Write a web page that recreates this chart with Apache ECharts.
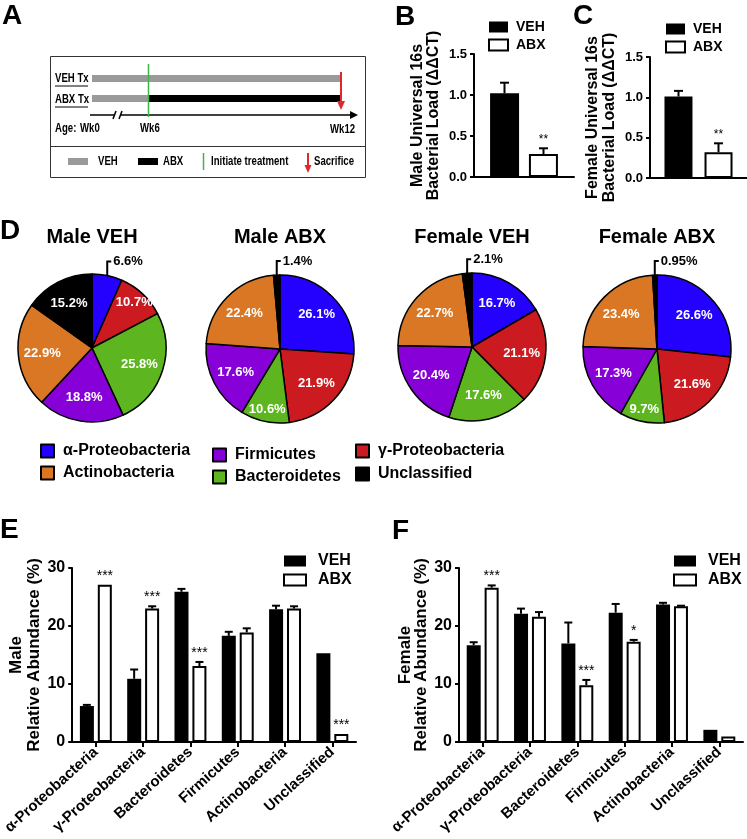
<!DOCTYPE html>
<html><head><meta charset="utf-8">
<script src="https://cdn.jsdelivr.net/npm/echarts@6/dist/echarts.min.js"></script>
<style>html,body{margin:0;padding:0;background:#fff}#c{width:747px;height:839px}</style>
</head><body><div id="c"></div>
<script>
// ---------------- data ----------------
const taxa = ['α-Proteobacteria','γ-Proteobacteria','Bacteroidetes','Firmicutes','Actinobacteria','Unclassified'];
const pieTitles = ['Male VEH','Male ABX','Female VEH','Female ABX'];
const pieMaleVEH   = [6.6, 10.7, 25.8, 18.8, 22.9, 15.2];
const pieMaleABX   = [26.1, 21.9, 10.6, 17.6, 22.4, 1.4];
const pieFemaleVEH = [16.7, 21.1, 17.6, 20.4, 22.7, 2.1];
const pieFemaleABX = [26.6, 21.6, 9.7, 17.3, 23.4, 0.95];

const groups = ['VEH','ABX'];
const maleLoadMean = [1.02, 0.28];
const maleLoadErr  = [0.13, 0.07];
const maleLoadStars = ['', '**'];
const femaleLoadMean = [1.01, 0.32];
const femaleLoadErr  = [0.07, 0.11];
const femaleLoadStars = ['', '**'];

const maleVEH    = [6.2, 10.9, 25.9, 18.3, 22.9, 15.3];
const maleVEHErr = [0.2, 1.6, 0.5, 0.7, 0.6, 0];
const maleABX    = [27.1, 23.0, 13.1, 18.9, 23.0, 1.4];
const maleABXErr = [0, 0.4, 0.7, 0.7, 0.4, 0];
const maleStars  = ['***','***','***','','','***'];

const femaleVEH    = [16.7, 22.1, 17.0, 22.3, 23.7, 2.1];
const femaleVEHErr = [0.5, 0.9, 3.6, 1.5, 0.3, 0];
const femaleABX    = [26.6, 21.6, 9.8, 17.3, 23.4, 0.95];
const femaleABXErr = [0.4, 0.8, 0.9, 0.3, 0.1, 0];
const femaleStars  = ['***','','***','*','',''];

const legendCols = [['α-Proteobacteria','Actinobacteria'],['Firmicutes','Bacteroidetes'],['γ-Proteobacteria','Unclassified']];

// ---------------- styles / layout ----------------
const F = '"Liberation Sans", Arial, sans-serif';
const taxaColors = ['#2400ff', '#cc1b20', '#5db520', '#8700d8', '#d97725', '#000000'];
const pieCenters = [[92,348],[280,349],[472,347],[657,349]];
const pieR = 74;
const outsideIdx = [0, 5, 5, 5];
const pieSets = [pieMaleVEH, pieMaleABX, pieFemaleVEH, pieFemaleABX];

const chart = echarts.init(document.getElementById('c'), null, {renderer:'canvas'});

function txt(x, y, s, font, opts) {
  return {type:'text', style:Object.assign({x:x, y:y, text:s, font:font, fill:'#000', align:'left', verticalAlign:'middle'}, opts||{})};
}
// condensed text (narrow look) via horizontal scaling
function ntxt(x, y, s) {
  return {type:'text', x:x, y:y, scaleX:0.8, scaleY:1,
    style:{x:0, y:0, text:s, font:'bold 12px ' + F, fill:'#000', align:'left', verticalAlign:'middle'}};
}
function ln(x1,y1,x2,y2,color,w){ return {type:'line', shape:{x1,y1,x2,y2}, style:{stroke:color||'#000', lineWidth:w||1}}; }
function rc(x,y,w,h,fill){ return {type:'rect', shape:{x,y,width:w,height:h}, style:{fill:fill}}; }
function poly(pts, fill){ return {type:'polygon', shape:{points:pts}, style:{fill:fill}}; }

const GREEN = '#3db54a', RED = '#e3262b', GRAY = '#9a9a9a';
const graphics = [
  // panel letters
  txt(2, 16, 'A', 'bold 28px ' + F),
  txt(395, 17, 'B', 'bold 28px ' + F),
  txt(573, 16, 'C', 'bold 28px ' + F),
  txt(0, 231, 'D', 'bold 28px ' + F),
  txt(0, 530, 'E', 'bold 28px ' + F),
  txt(392, 531, 'F', 'bold 28px ' + F),
  // panel A schematic
  {type:'rect', shape:{x:50.5,y:56.5,width:315,height:121}, style:{fill:'none', stroke:'#333', lineWidth:1}},
  ln(50, 146.5, 365, 146.5, '#333', 1),
  ntxt(55, 79, 'VEH Tx'), ln(55, 86, 88, 86, '#000', 1),
  ntxt(55, 100, 'ABX Tx'), ln(55, 107, 88, 107, '#000', 1),
  rc(92, 75, 249, 7, GRAY),
  rc(92, 95, 56, 7, GRAY),
  rc(148, 95, 193, 7, '#000'),
  ln(90, 115, 114, 115, '#000', 1.5),
  ln(113, 119, 116, 111, '#000', 1.5),
  ln(119, 119, 122, 111, '#000', 1.5),
  ln(121, 115, 352, 115, '#000', 1.5),
  poly([[358,115],[350,111],[350,119]], '#000'),
  ln(148.5, 64, 148.5, 117, GREEN, 1.5),
  ln(341, 72, 341, 103, RED, 2),
  poly([[341,110],[337,101],[345,101]], RED),
  ntxt(55, 129, 'Age:'),
  ntxt(80, 129, 'Wk0'),
  ntxt(140, 129, 'Wk6'),
  ntxt(330, 130, 'Wk12'),
  rc(68, 158, 20, 7, GRAY), ntxt(98, 162, 'VEH'),
  rc(138, 158, 20, 7, '#000'), ntxt(163, 162, 'ABX'),
  ln(203.5, 153, 203.5, 170, GREEN, 1.5), ntxt(211, 162, 'Initiate treatment'),
  ln(308, 153, 308, 166, RED, 2), poly([[308,173],[304.5,165],[311.5,165]], RED), ntxt(314, 162, 'Sacrifice')
];
pieTitles.forEach((t, k) => graphics.push(txt(pieCenters[k][0], 237, t, 'bold 20px ' + F, {align:'center'})));

// ---------------- axes helpers ----------------
const axLine = {show:true, lineStyle:{color:'#000', width:2}};
function yAx(gi, max, interval, name, labelSize, nameSize, nameGap, fmt, lh) {
  return {gridIndex:gi, type:'value', min:0, max:max, interval:interval,
    axisLine:axLine, axisTick:{show:true, length:4, lineStyle:{color:'#000', width:2}},
    splitLine:{show:false},
    axisLabel:{fontSize:labelSize, fontWeight:'bold', color:'#000', fontFamily:F, margin:7, formatter:fmt},
    name:name, nameLocation:'middle', nameGap:nameGap, nameRotate:90,
    nameTextStyle:{fontSize:nameSize, fontWeight:'bold', color:'#000', fontFamily:F, lineHeight:lh}};
}
function xCat(gi, data, showLabels) {
  return {gridIndex:gi, type:'category', data:data, axisLine:axLine,
    axisTick:{show:showLabels, alignWithLabel:true, length:5, lineStyle:{color:'#000', width:2}},
    axisLabel:{show:showLabels, interval:0, rotate:42, fontSize:15, fontWeight:'bold', color:'#000', fontFamily:F, margin:8}};
}
function bar(gi, name, data, width, gap) {
  const isABX = name === 'ABX';
  return {type:'bar', name:name, xAxisIndex:gi, yAxisIndex:gi, data:data, barWidth:width, barGap:gap,
    itemStyle: isABX ? {color:'#fff', borderColor:'#000', borderWidth:2} : {color:'#000'},
    silent:true, animation:false};
}
function errBars(gi, cats, means, errs, stars, dx, capW, starSize) {
  return {type:'custom', xAxisIndex:gi, yAxisIndex:gi, z:10, silent:true, animation:false, clip:false,
    data: means.map((m, i) => [cats[i], m, errs[i]]),
    renderItem: function(params, api) {
      const i = params.dataIndex;
      const c = api.value(0), m = api.value(1), e = api.value(2);
      const p0 = api.coord([c, m]), p1 = api.coord([c, m + e]);
      const x = p0[0] + dx;
      const ch = [];
      if (e > 0) {
        ch.push({type:'line', shape:{x1:x, y1:p0[1], x2:x, y2:p1[1]}, style:{stroke:'#000', lineWidth:2}});
        ch.push({type:'line', shape:{x1:x-capW/2, y1:p1[1], x2:x+capW/2, y2:p1[1]}, style:{stroke:'#000', lineWidth:2}});
      }
      if (stars[i]) ch.push({type:'text', style:{x:x, y:p1[1]-9, text:stars[i], font:starSize+'px ' + F, fill:'#000', align:'center', verticalAlign:'middle'}});
      return {type:'group', children:ch};
    }};
}

// ---------------- pies ----------------
const pies = pieSets.map((vals, k) => ({
  type:'pie', center:pieCenters[k], radius:pieR, startAngle:90, clockwise:true,
  avoidLabelOverlap:false, silent:true, animation:false, minShowLabelAngle:0,
  itemStyle:{borderColor:'#000', borderWidth:1.5},
  label:{show:true, position:'inside', formatter:p => p.value + '%', color:'#fff', fontSize:13, fontWeight:'bold', fontFamily:F},
  labelLine:{show:false},
  emphasis:{disabled:true},
  data: vals.map((v, i) => {
    const d = {name:taxa[i], value:v, itemStyle:{color:taxaColors[i]}};
    if (i === outsideIdx[k]) {
      d.label = {position:'outside', color:'#000'};
      d.labelLine = {show:true, length:8, length2:4, lineStyle:{color:'#000', width:2}};
    }
    return d;
  }),
  labelLayout: function(p) {
    const cx = pieCenters[k][0], cy = pieCenters[k][1];
    if (p.dataIndex === outsideIdx[k] && p.labelLinePoints) {
      const s = p.labelLinePoints[0];
      const yTop = s[1] - 14;
      return {x:s[0] + 6, y:yTop, align:'left', verticalAlign:'middle',
              labelLinePoints:[[s[0], s[1]], [s[0], yTop], [s[0] + 4, yTop]]};
    }
    const lr = p.labelRect;
    const lx = lr.x + lr.width/2, ly = lr.y + lr.height/2;
    const f = vals[p.dataIndex] < 12 ? 1.55 : 1.25;
    return {x:cx + (lx - cx)*f, y:cy + (ly - cy)*f, align:'center', verticalAlign:'middle'};
  }
}));

// ---------------- legends ----------------
function legItem(name) {
  return {name:name, itemStyle:{color:taxaColors[taxa.indexOf(name)], borderColor:'#000', borderWidth:2}};
}
const vehLeg = {name:'VEH', itemStyle:{color:'#000', borderColor:'#000', borderWidth:0}};
const abxLeg = {name:'ABX', itemStyle:{color:'#fff', borderColor:'#000', borderWidth:2}};
function barLegend(left, top, iw, ih, fs, gap, pad) {
  return {left:left, top:top, orient:'vertical', padding:0, itemGap:gap, itemWidth:iw, itemHeight:ih, icon:'rect',
    selectedMode:false, data:[vehLeg, abxLeg],
    textStyle:{fontSize:fs, fontWeight:'bold', color:'#000', fontFamily:F, padding:[0,0,0,pad]}};
}
function taxaLegend(left, top, names, gap) {
  return {left:left, top:top, orient:'vertical', padding:0, itemGap:gap, itemWidth:13, itemHeight:13, icon:'rect', selectedMode:false,
    data:names.map(legItem), textStyle:{fontSize:16, fontWeight:'bold', color:'#000', fontFamily:F, padding:[0,0,0,4]}};
}
const legends = [
  taxaLegend(40, 443, legendCols[0], 6),
  taxaLegend(212, 447, legendCols[1], 6),
  taxaLegend(355, 443, legendCols[2], 7),
  barLegend(488, 20, 19, 11, 14, 4, 3),
  barLegend(665, 22, 19, 11, 14, 4, 3),
  barLegend(283, 553, 22, 11, 16, 3, 7),
  barLegend(673, 553, 22, 11, 16, 3, 7)
];

// ---------------- option ----------------
const fmt1 = v => v.toFixed(1);
const series = [
  bar(0, 'VEH', [maleLoadMean[0]], 29, '34%'),
  bar(0, 'ABX', [maleLoadMean[1]], 29, '34%'),
  errBars(0, [0], [maleLoadMean[0]], [maleLoadErr[0]], [maleLoadStars[0]], -19.5, 9, 12),
  errBars(0, [0], [maleLoadMean[1]], [maleLoadErr[1]], [maleLoadStars[1]], 19.5, 9, 12),
  bar(1, 'VEH', [femaleLoadMean[0]], 28, '43%'),
  bar(1, 'ABX', [femaleLoadMean[1]], 28, '43%'),
  errBars(1, [0], [femaleLoadMean[0]], [femaleLoadErr[0]], [femaleLoadStars[0]], -20, 9, 12),
  errBars(1, [0], [femaleLoadMean[1]], [femaleLoadErr[1]], [femaleLoadStars[1]], 20, 9, 12),
  bar(2, 'VEH', maleVEH, 14, '28%'),
  bar(2, 'ABX', maleABX, 14, '28%'),
  errBars(2, [0,1,2,3,4,5], maleVEH, maleVEHErr, ['','','','','',''], -9, 8, 14),
  errBars(2, [0,1,2,3,4,5], maleABX, maleABXErr, maleStars, 9, 8, 14),
  bar(3, 'VEH', femaleVEH, 14, '28%'),
  bar(3, 'ABX', femaleABX, 14, '28%'),
  errBars(3, [0,1,2,3,4,5], femaleVEH, femaleVEHErr, ['','','','','',''], -9, 8, 14),
  errBars(3, [0,1,2,3,4,5], femaleABX, femaleABXErr, femaleStars, 9, 8, 14)
].concat(pies);

chart.setOption({
  animation:false,
  textStyle:{fontFamily:F},
  graphic:graphics,
  legend:legends,
  grid:[
    {left:474, top:54, width:100, height:123},
    {left:650, top:57, width:98, height:121},
    {left:72, top:568, width:284, height:174},
    {left:459, top:568, width:284, height:174}
  ],
  xAxis:[
    xCat(0, ['16s'], false),
    xCat(1, ['16s'], false),
    xCat(2, taxa, true),
    xCat(3, taxa, true)
  ],
  yAxis:[
    yAx(0, 1.5, 0.5, 'Male Universal 16s\nBacterial Load (ΔΔCT)', 13, 16, 32, fmt1, 16),
    yAx(1, 1.5, 0.5, 'Female Universal 16s\nBacterial Load (ΔΔCT)', 13, 16, 32, fmt1, 17),
    yAx(2, 30, 10, 'Male\nRelative Abundance (%)', 16, 17, 22, null, 18),
    yAx(3, 30, 10, 'Female\nRelative Abundance (%)', 16, 17, 26, null, 16)
  ],
  series:series
});
</script>
</body></html>
